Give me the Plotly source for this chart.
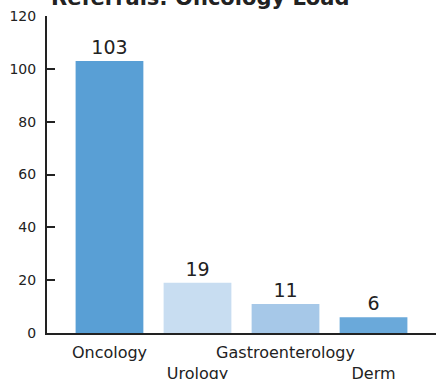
import plotly.graph_objects as go

categories = ["Oncology", "Urology", "Gastroenterology", "Derm"]
values = [103, 19, 11, 6]
tick_labels = ["Oncology", "<br>Urology", "Gastroenterology", "<br>Derm"]
bar_colors = ["#599FD5", "#C8DDF1", "#A6C8E8", "#6AA9DA"]
y_ticks = [0, 20, 40, 60, 80, 100, 120]
title_text = "<b>Referrals: Oncology Load</b>"

FONT = "DejaVu Sans"
INK = "#222222"

fig = go.Figure(
    go.Bar(
        x=list(range(len(categories))),
        y=values,
        marker=dict(color=bar_colors, line=dict(width=0)),
        text=[str(v) for v in values],
        textposition="outside",
        textfont=dict(family=FONT, size=19, color=INK),
        cliponaxis=False,
    )
)

fig.update_layout(
    width=436,
    height=379,
    margin=dict(l=47, r=0, t=16, b=46, autoexpand=False),
    paper_bgcolor="white",
    plot_bgcolor="white",
    bargap=0.23,
    showlegend=False,
    font=dict(family=FONT, color=INK),
)

fig.add_annotation(
    text=title_text,
    xref="paper",
    yref="paper",
    x=(50 - 47) / 389,
    y=(333 - 11) / 317,
    xanchor="left",
    yanchor="bottom",
    showarrow=False,
    borderpad=0,
    font=dict(family=FONT, size=21, color=INK),
)

fig.update_xaxes(
    range=[-0.71, 3.71],
    tickvals=list(range(len(categories))),
    ticktext=tick_labels,
    tickangle=0,
    tickfont=dict(family=FONT, size=16, color=INK),
    showline=True,
    linecolor=INK,
    linewidth=2,
    ticks="",
    showgrid=False,
    zeroline=False,
    automargin=False,
    ticklabelstandoff=4,
)

fig.update_yaxes(
    range=[0, 120],
    tickvals=y_ticks,
    tickfont=dict(family=FONT, size=14, color=INK),
    showline=True,
    linecolor=INK,
    linewidth=2,
    ticks="inside",
    ticklen=8,
    tickwidth=1.5,
    tickcolor=INK,
    showgrid=False,
    zeroline=False,
    automargin=False,
    ticklabelstandoff=6,
)

fig.write_html("out.html")
